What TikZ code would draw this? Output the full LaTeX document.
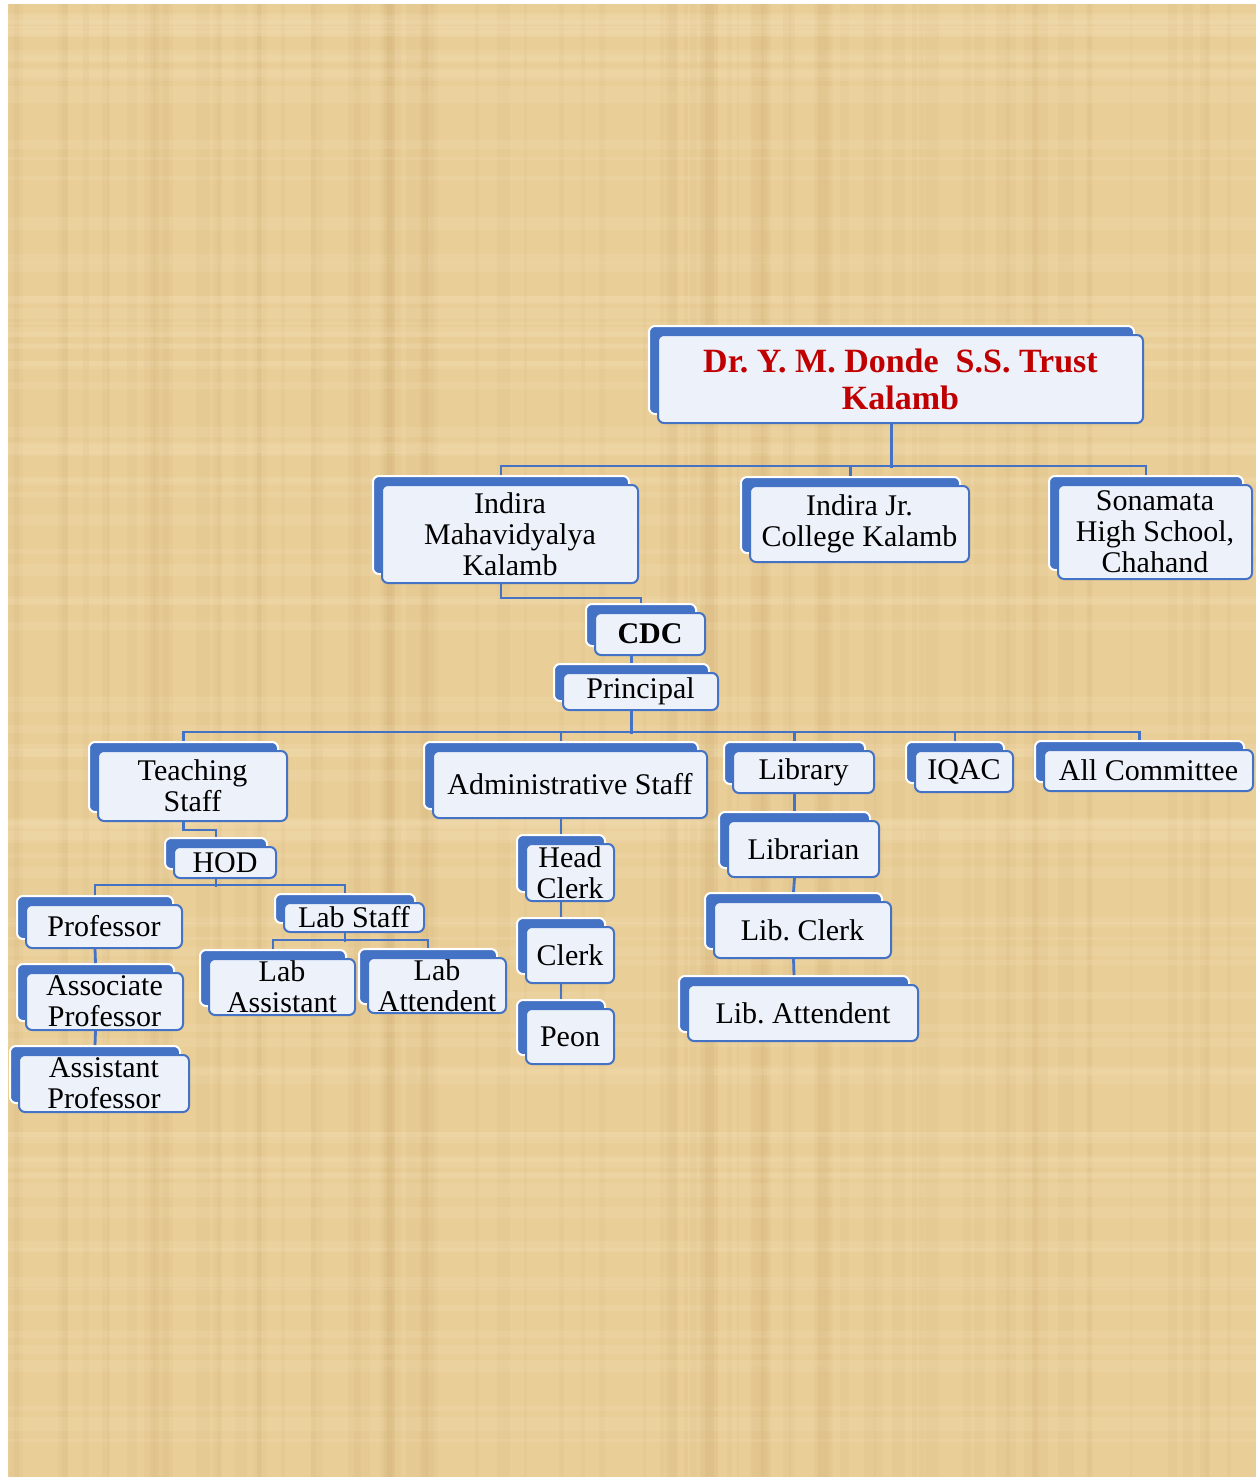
\documentclass[tikz,border=0pt]{standalone}
\usepackage{fontspec}
\setmainfont{Liberation Serif}
\usepackage{tikz}
\usetikzlibrary{positioning}
\definecolor{boxblue}{RGB}{68,114,196}
\definecolor{boxfill}{RGB}{237,241,250}
\definecolor{trustred}{RGB}{192,0,0}
\definecolor{paper}{RGB}{233,206,152}
\definecolor{paperdark}{RGB}{205,172,110}
\definecolor{paperlight}{RGB}{246,226,186}
\frenchspacing

\begin{document}
\begin{tikzpicture}[
    x=1pt, y=-1pt,
    unit/.style={rectangle, draw=boxblue, line width=2pt, rounded corners=6pt, fill=boxfill,
        inner sep=0pt, align=center, font=\fontsize{30}{31}\selectfont,
        preaction={fill=boxblue, draw=white, line width=2pt, transform canvas={shift={(-9pt,9pt)}}}},
    link/.style={draw=boxblue, line width=2.8pt},
    backx/.style={xshift=-9pt},
    backtop/.style={xshift=-9pt, yshift=9pt}
]
    \useasboundingbox (0,0) rectangle (1256,1477);
    \fill[white] (0,0) rectangle (1256,1477);
    \fill[paper] (8,4) rectangle (1256,1477);
    % papyrus texture
    \pgfmathsetseed{11}
    \foreach \i in {1,...,90} {
        \pgfmathsetmacro{\px}{8+rnd*1230}
        \pgfmathsetmacro{\pw}{2+rnd*14}
        \fill[paperdark, opacity=0.10] (\px,4) rectangle ++(\pw,1473);
        \pgfmathsetmacro{\py}{4+rnd*1450}
        \pgfmathsetmacro{\ph}{2+rnd*12}
        \fill[paperlight, opacity=0.18] (8,\py) rectangle ++(1248,\ph);
    }

    \node[unit, minimum width=485, minimum height=88, font=\fontsize{34}{37}\selectfont\bfseries, text=trustred] (trust) at (900.5,379) {Dr. Y. M. Donde\ \ S.S. Trust\\Kalamb};
    \node[unit, minimum width=256, minimum height=98] (imk) at (510,534) {Indira\\Mahavidyalya\\Kalamb};
    \node[unit, minimum width=219, minimum height=76] (ijc) at (859.5,524) {Indira Jr.\\College Kalamb};
    \node[unit, minimum width=194, minimum height=94] (sona) at (1155,532) {Sonamata\\High School,\\Chahand};
    \node[unit, minimum width=110, minimum height=42, font=\fontsize{30}{31}\selectfont\bfseries] (cdc) at (650,634) {CDC};
    \node[unit, minimum width=155, minimum height=37] (principal) at (640.5,691.5) {Principal};

    \node[unit, minimum width=189, minimum height=70] (teach) at (192.5,786) {Teaching\\Staff};
    \node[unit, minimum width=274, minimum height=67] (admin) at (570,784.5) {Administrative Staff};
    \node[unit, minimum width=141, minimum height=42] (library) at (803.5,772) {Library};
    \node[unit, minimum width=98, minimum height=41] (iqac) at (964,771.5) {IQAC};
    \node[unit, minimum width=209, minimum height=41] (allc) at (1148.5,770.5) {All Committee};

    \node[unit, minimum width=102, minimum height=31] (hod) at (225,862.5) {HOD};
    \node[unit, minimum width=156, minimum height=43] (prof) at (104,926.5) {Professor};
    \node[unit, minimum width=140, minimum height=29] (labstaff) at (354,917.5) {Lab Staff};
    \node[unit, minimum width=157, minimum height=57] (assoc) at (104.5,1001.5) {Associate\\Professor};
    \node[unit, minimum width=170, minimum height=57] (asst) at (104,1083.5) {Assistant\\Professor};
    \node[unit, minimum width=146, minimum height=56] (labasst) at (282,987) {Lab\\Assistant};
    \node[unit, minimum width=138, minimum height=55] (labatt) at (437,985.5) {Lab\\Attendent};

    \node[unit, minimum width=88, minimum height=57] (headclerk) at (570,872.5) {Head\\Clerk};
    \node[unit, minimum width=88, minimum height=56] (clerk) at (570,955) {Clerk};
    \node[unit, minimum width=88, minimum height=55] (peon) at (570,1036.5) {Peon};

    \node[unit, minimum width=151, minimum height=56] (librarian) at (803.5,849) {Librarian};
    \node[unit, minimum width=177, minimum height=56] (libclerk) at (802.5,930) {Lib. Clerk};
    \node[unit, minimum width=230, minimum height=56] (libatt) at (803,1013) {Lib. Attendent};

    % trust level
    \draw[link] ([backx]trust.south) -- ++(0,44);
    \draw[link] ([backtop]imk.north) -- ++(0,-9) -| ([backtop]sona.north);
    \draw[link] ([backtop]ijc.north) -- ++(0,-10);
    \draw[link] ([backx]imk.south) -- ++(0,14) -| ([backtop]cdc.north);
    \draw[link] ([backx]principal.north |- cdc.south) -- ([backtop]principal.north);

    % principal level
    \draw[link] ([backx]principal.south) -- ++(0,23);
    \draw[link] ([backtop]teach.north) -- ++(0,-9) -| ([backtop]allc.north);
    \draw[link] ([backtop]admin.north) -- ++(0,-9);
    \draw[link] ([backtop]library.north) -- ++(0,-9);
    \draw[link] ([backtop]iqac.north) -- ++(0,-9);

    % teaching staff
    \draw[link] ([backx]teach.south) -- ++(0,8) -| ([backtop]hod.north);
    \draw[link] ([backx]hod.south) -- ++(0,8);
    \draw[link] ([backtop]prof.north) -- ++(0,-10) -| ([backtop]labstaff.north);
    \draw[link] ([backx]prof.south) -- ([backtop]assoc.north);
    \draw[link] ([backx]assoc.south) -- ([backtop]asst.north);
    \draw[link] ([backx]labstaff.south) -- ++(0,9);
    \draw[link] ([backtop]labasst.north) -- ++(0,-9) -| ([backtop]labatt.north);

    % administrative staff
    \draw[link] ([backx]admin.south) -- ([backtop]headclerk.north);
    \draw[link] ([backx]headclerk.south) -- ([backtop]clerk.north);
    \draw[link] ([backx]clerk.south) -- ([backtop]peon.north);

    % library
    \draw[link] ([backx]library.south) -- ([backtop]librarian.north);
    \draw[link] ([backx]librarian.south) -- ([backtop]libclerk.north);
    \draw[link] ([backx]libclerk.south) -- ([backtop]libatt.north);
\end{tikzpicture}
\end{document}
